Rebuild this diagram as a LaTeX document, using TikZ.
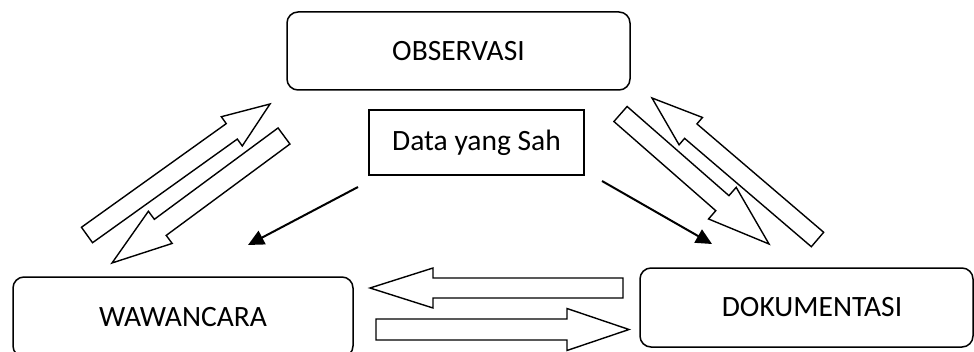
\documentclass[tikz,border=0pt]{standalone}
\usepackage{fontspec}
\setmainfont{Carlito}
\usetikzlibrary{calc,arrows.meta}
\tikzset{
  roundbox/.style={draw, line width=1.5pt, rounded corners=11pt, inner sep=0pt, font=\fontsize{29.5}{35}\selectfont},
  plainbox/.style={draw, line width=1.5pt, inner sep=0pt, font=\fontsize{29.5}{35}\selectfont},
  blk/.style={draw, line width=1.4pt, line join=miter, fill=white},
  thinarrow/.style={line width=2pt, -{Triangle[length=16pt,width=15pt]}}
}
\newcommand{\blockarrow}[5]{%
  \path let \p1=(#1), \p2=(#2), \n1={atan2(\y2-\y1,\x2-\x1)}, \n2={veclen(\x2-\x1,\y2-\y1)} in
    \pgfextra{\xdef\baang{\n1}\xdef\balen{\n2}\xdef\bax{\x1}\xdef\bay{\y1}};
  \begin{scope}[shift={(\bax,\bay)}, rotate=\baang]
    \draw[blk] (0,-#3) -- (\balen-#5,-#3) -- (\balen-#5,-#4) -- (\balen,0)
      -- (\balen-#5,#4) -- (\balen-#5,#3) -- (0,#3) -- cycle;
  \end{scope}}
\begin{document}
\begin{tikzpicture}[x=1pt,y=1pt]
\clip (0,0) rectangle (974,351);
\useasboundingbox (0,0) rectangle (974,351);
% boxes
\node[roundbox, minimum width=343pt, minimum height=78pt] (obs) at (458.5,300) {OBSERVASI};
\node[plainbox, minimum width=215pt, minimum height=65pt] (data) at (476.5,208.5) {Data yang Sah};
\node[roundbox, minimum width=340pt, minimum height=80pt] (waw) at (183,34) {WAWANCARA};
\node[roundbox, minimum width=333pt, minimum height=79pt] (dok) at (806.5,43.5) {\hspace*{11pt}DOKUMENTASI};
% block arrow end points
\coordinate (a1t) at (87,116);    \coordinate (a1h) at (270,247);
\coordinate (a2t) at (284,215);   \coordinate (a2h) at (112,88);
\coordinate (a3t) at (817.5,111.5); \coordinate (a3h) at (652,253);
\coordinate (a4t) at (620.5,237); \coordinate (a4h) at (769,107);
\coordinate (a5t) at (623,63);    \coordinate (a5h) at (370,63);
\coordinate (a6t) at (376,21.5);  \coordinate (a6h) at (629,21.5);
\blockarrow{a1t}{a1h}{9.5}{18}{47}
\blockarrow{a2t}{a2h}{10}{20}{60}
\blockarrow{a3t}{a3h}{9.5}{18}{51}
\blockarrow{a4t}{a4h}{10}{21}{62}
\blockarrow{a5t}{a5h}{10}{20}{63}
\blockarrow{a6t}{a6h}{10.5}{21}{62}
% thin arrows
\coordinate (ls) at (358,164); \coordinate (le) at (248,106);
\coordinate (rs) at (602,170); \coordinate (re) at (712,107);
\draw[thinarrow] (ls) -- (le);
\draw[thinarrow] (rs) -- (re);
\end{tikzpicture}
\end{document}
